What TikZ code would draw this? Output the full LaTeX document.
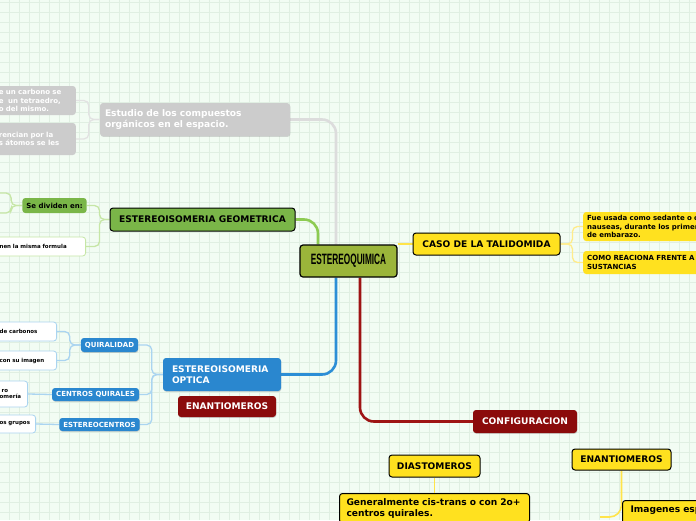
\documentclass[tikz,border=0pt]{standalone}
\usepackage{fontspec}
\setmainfont{DejaVu Sans}
\newfontfamily\titlefont{Liberation Sans}
\usepackage{tikz}
\usetikzlibrary{calc,shadows,backgrounds}
\definecolor{fondo}{HTML}{F2FCF3}
\definecolor{rejilla}{HTML}{E0EFE2}
\definecolor{oliva}{HTML}{9BB53A}
\definecolor{verdeN}{HTML}{7AB648}
\definecolor{grisN}{HTML}{CCCCCC}
\definecolor{azulN}{HTML}{2A87CF}
\definecolor{rojoN}{HTML}{8B0B0B}
\definecolor{amarilloN}{HTML}{FFE11F}
\definecolor{lgris}{HTML}{DCDCDC}
\definecolor{lverde}{HTML}{8DCB52}
\definecolor{lazul}{HTML}{2C8ED6}
\definecolor{lrojo}{HTML}{9E1414}
\definecolor{lamarillo}{HTML}{FFE44A}
\definecolor{rgris}{HTML}{E2E2E2}
\definecolor{rverde}{HTML}{C6E6A6}
\definecolor{razul}{HTML}{AAD4F0}
\definecolor{ramarillo}{HTML}{FFEC8A}
\newcommand\recorte{\hspace*{13pt}}

\begin{document}
\begin{tikzpicture}[x=1pt,y=-1pt,
  mapa/.style={rounded corners=3pt,inner xsep=4pt,inner ysep=2pt,align=center},
  sombra/.style={drop shadow={opacity=0.3,shadow xshift=0.4pt,shadow yshift=-0.9pt}},
  txtA/.style={font=\bfseries\fontsize{9.1}{10.6}\selectfont},
  txtB/.style={font=\bfseries\fontsize{7}{8.4}\selectfont},
  txtC/.style={font=\bfseries\fontsize{5.5}{6.8}\selectfont},
  centro/.style={mapa,fill=oliva,draw=black,line width=1.2pt,font=\titlefont\bfseries\fontsize{15}{15}\selectfont},
  gris/.style={mapa,sombra,fill=grisN,text=white},
  grisH/.style={mapa,fill=grisN,text=white,inner xsep=2pt},
  verde/.style={mapa,fill=verdeN,draw=black,line width=1pt},
  verdeS/.style={mapa,fill=verdeN},
  verdeH/.style={mapa,fill=white,draw=rverde,line width=0.8pt,inner xsep=2pt},
  azul/.style={mapa,sombra,fill=azulN,text=white},
  azulH/.style={mapa,fill=white,draw=razul,line width=0.8pt,inner xsep=2pt},
  rojo/.style={mapa,sombra,fill=rojoN,text=white},
  amarillo/.style={mapa,fill=amarilloN,draw=black,line width=1pt},
  amarilloS/.style={mapa,fill=amarilloN},
  enlace/.style={line width=2.6pt,rounded corners=14pt},
  rama/.style={line width=1.3pt,rounded corners=5pt}]
\useasboundingbox (0,0) rectangle (696,520);
\begin{scope}[on background layer]
\fill[fondo] (0,0) rectangle (696,520);
\foreach \gx in {9,19,...,689} \draw[rejilla,line width=0.6pt] (\gx,0) -- (\gx,520);
\foreach \gy in {2,12,...,512} \draw[rejilla,line width=0.6pt] (0,\gy) -- (696,\gy);
\end{scope}

\node[centro,minimum width=97,minimum height=32] (quimica) at (348.5,261) {\scalebox{0.55}[1]{ESTEREOQUIMICA}};

\node[gris,minimum width=190,minimum height=33,text width=180,align=left,txtA] (estudio) at (195,119.5) {Estudio de los compuestos\\orgánicos en el espacio.};
\node[grisH,anchor=east,minimum height=29,text width=88,align=left,txtB] (carbono) at (76,100.5) {\recorte e un carbono se\\\recorte e\ \ un tetraedro,\\\recorte o del mismo.};
\node[grisH,anchor=east,minimum height=32,text width=88,align=left,txtB] (atomos) at (76,139) {\recorte rencian por la\\\recorte s átomos se les};

\node[verde,minimum width=185,minimum height=23,txtA] (geometrica) at (202.5,219.5) {ESTEREOISOMERIA GEOMETRICA};
\node[verdeS,minimum width=63,minimum height=15,txtB] (divide) at (54.5,205.5) {Se dividen en:};
\node[verdeH,anchor=east,minimum height=19,text width=98,align=left,txtC] (formula) at (86,246.5) {\hspace*{14pt}nen la misma formula};
\coordinate (tipoA) at (-4,193);
\coordinate (tipoB) at (-4,213);

\node[azul,minimum width=118,minimum height=33,text width=100,align=left,txtA] (optica) at (222,374.5) {ESTEREOISOMERIA\\OPTICA};
\node[rojo,minimum width=98,minimum height=21,txtA] (enantioA) at (227,406.5) {ENANTIOMEROS};
\node[azul,minimum width=57,minimum height=14,txtB] (quiralidad) at (109.5,345) {QUIRALIDAD};
\node[azul,minimum width=87,minimum height=13,txtB] (centros) at (95.5,394.5) {CENTROS QUIRALES};
\node[azul,minimum width=79,minimum height=13,txtB] (estereo) at (99.5,424.5) {ESTEREOCENTROS};
\node[azulH,anchor=east,minimum height=19,text width=69,align=left,txtC] (carbonos) at (57,331.5) {\hspace*{14pt}de carbonos};
\node[azulH,anchor=east,minimum height=19,text width=69,align=left,txtC] (imagen) at (57,360.5) {\hspace*{14pt}con su imagen};
\node[azulH,anchor=east,minimum height=26,text width=40,align=left,txtC] (someria) at (28,394) {\hspace*{16pt}ro\\\hspace*{14pt}omería};
\node[azulH,anchor=east,minimum height=18,text width=48,align=left,txtC] (grupos) at (36,424) {\hspace*{14pt}os grupos};

\node[amarillo,minimum width=147,minimum height=22,txtA] (caso) at (486.5,244) {CASO DE LA TALIDOMIDA};
\node[amarilloS,anchor=west,minimum height=29,text width=150,align=left,txtB] (sedante) at (583,226.5) {Fue usada como sedante o c\\nauseas, durante los primer\\de embarazo.};
\node[amarilloS,anchor=west,minimum height=23,text width=150,align=left,txtB] (reaciona) at (583,262.5) {COMO REACIONA FRENTE A\\SUSTANCIAS};

\node[rojo,minimum width=104,minimum height=23,txtA] (config) at (525,421.5) {CONFIGURACION};
\node[amarillo,minimum width=91,minimum height=22,txtA] (diasto) at (434.5,466) {DIASTOMEROS};
\node[amarillo,anchor=north west,text width=176,align=left,inner xsep=7pt,inner ysep=5pt,txtA] (generalmente) at (339,493) {Generalmente cis-trans o con 2o+\\centros quirales.};
\node[amarillo,minimum width=99,minimum height=21,txtA] (enantioB) at (621.5,459.5) {ENANTIOMEROS};
\node[amarillo,anchor=north west,text width=90,align=left,inner xsep=8pt,inner ysep=5pt,text depth=14pt,txtA] (imagenes) at (622,500) {Imagenes esp};
\coordinate (otro) at (600,517);

\begin{scope}[on background layer]
\draw[enlace,lgris] ([xshift=-12.5]quimica.north) |- (estudio.east);
\draw[enlace,lverde] ([xshift=-30.5]quimica.north) |- (geometrica.east);
\draw[enlace,lazul] ([xshift=-12.5]quimica.south) |- (optica.east);
\draw[enlace,lrojo] ([xshift=11.5]quimica.south) |- (config.west);
\draw[enlace,lamarillo] (caso.west -| quimica.east) -- (caso.west);
\draw[rama,rgris] (estudio.west) -- ++(-11,0) |- (carbono.east);
\draw[rama,rgris] (estudio.west) -- ++(-11,0) |- (atomos.east);
\draw[rama,rverde] (geometrica.west) -- ++(-10,0) |- (divide.east);
\draw[rama,rverde] (geometrica.west) -- ++(-10,0) |- (formula.east);
\draw[rama,rverde] (divide.west) -- ++(-11,0) |- (tipoA);
\draw[rama,rverde] (divide.west) -- ++(-11,0) |- (tipoB);
\draw[rama,razul] (optica.west) -- ++(-11,0) |- (quiralidad.east);
\draw[rama,razul] (optica.west) -- ++(-11,0) |- (centros.east);
\draw[rama,razul] (optica.west) -- ++(-11,0) |- (estereo.east);
\draw[rama,razul] (quiralidad.west) -- ++(-11,0) |- (carbonos.east);
\draw[rama,razul] (quiralidad.west) -- ++(-11,0) |- (imagen.east);
\draw[rama,razul] (centros.west) -- (someria.east);
\draw[rama,razul] (estereo.west) -- (grupos.east);
\draw[rama,ramarillo] (caso.east) -- ++(12,0) |- (sedante.west);
\draw[rama,ramarillo] (caso.east) -- ++(12,0) |- (reaciona.west);
\draw[rama,lamarillo,line width=1.6pt] (diasto.south) -- (generalmente.north -| diasto.south);
\draw[rama,lamarillo,line width=1.6pt,rounded corners=12pt] (enantioB.south) |- (otro);
\end{scope}
\end{tikzpicture}
\end{document}
